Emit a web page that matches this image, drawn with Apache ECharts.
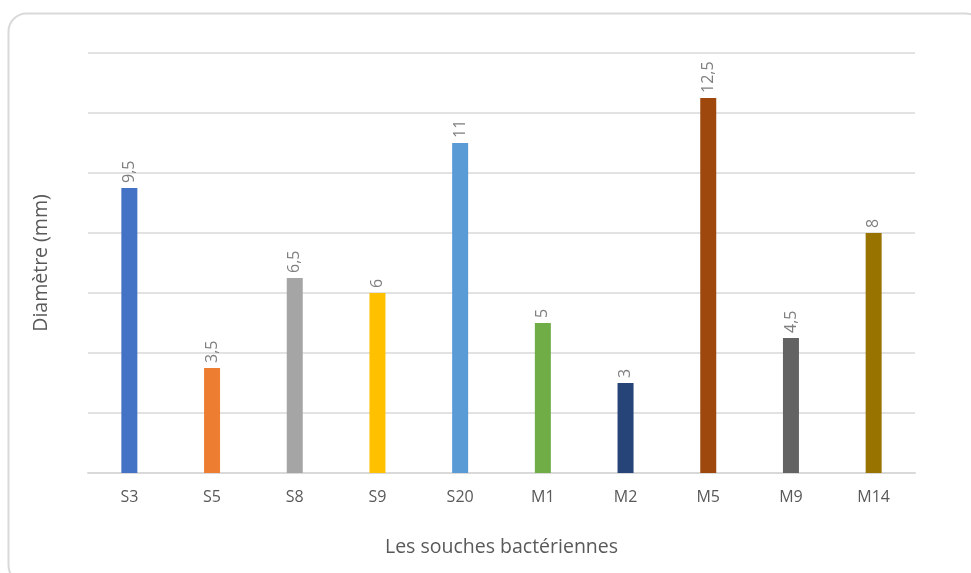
<!DOCTYPE html>
<html>
<head>
<meta charset="utf-8">
<script src="https://cdn.jsdelivr.net/npm/echarts@6/dist/echarts.min.js"></script>
<style>
  html, body { margin: 0; padding: 0; background: #fff; }
  #chart { width: 971px; height: 573px; }
</style>
</head>
<body>
<div id="chart"></div>
<script>
// Strains and inhibition-zone diameters (mm)
const categories = ['S3', 'S5', 'S8', 'S9', 'S20', 'M1', 'M2', 'M5', 'M9', 'M14'];
const diameters = [9.5, 3.5, 6.5, 6, 11, 5, 3, 12.5, 4.5, 8];
const barColors = ['#4472C4', '#ED7D31', '#A5A5A5', '#FFC000', '#5B9BD5',
                   '#70AD47', '#264478', '#9E480E', '#636363', '#997300'];

const fontFamily = '"Open Sans", "Noto Sans", sans-serif';
const chart = echarts.init(document.getElementById('chart'), null, { renderer: 'canvas' });

chart.setOption({
  backgroundColor: '#ffffff',
  animation: false,
  graphic: [{
    type: 'rect',
    shape: { x: 8.5, y: 13.5, width: 975, height: 570, r: 18 },
    style: { fill: 'none', stroke: '#d9d9d9', lineWidth: 2 },
    silent: true
  }],
  grid: { left: 88, right: 56, top: 53, bottom: 100 },
  xAxis: {
    type: 'category',
    data: categories,
    name: 'Les souches bactériennes',
    nameLocation: 'middle',
    nameGap: 64,
    nameTextStyle: { color: '#595959', fontSize: 19.5, fontFamily },
    axisLine: { lineStyle: { color: '#d9d9d9', width: 2 } },
    axisTick: { show: false },
    axisLabel: { color: '#595959', fontSize: 16, margin: 16, fontFamily }
  },
  yAxis: {
    type: 'value',
    min: 0,
    max: 14,
    interval: 2,
    name: 'Diamètre (mm)',
    nameLocation: 'middle',
    nameGap: 37,
    nameTextStyle: { color: '#595959', fontSize: 19.5, fontFamily },
    axisLabel: { show: false },
    axisLine: { show: false },
    axisTick: { show: false },
    splitLine: { lineStyle: { color: '#d9d9d9', width: 1.5 } }
  },
  series: [{
    type: 'bar',
    barWidth: 16,
    data: diameters.map((v, i) => ({ value: v, itemStyle: { color: barColors[i] } })),
    label: {
      show: true,
      position: 'top',
      rotate: 90,
      align: 'left',
      verticalAlign: 'middle',
      distance: 5,
      color: '#7f7f7f',
      fontSize: 16,
      fontFamily,
      formatter: p => String(p.value).replace('.', ',')
    }
  }]
});
</script>
</body>
</html>
